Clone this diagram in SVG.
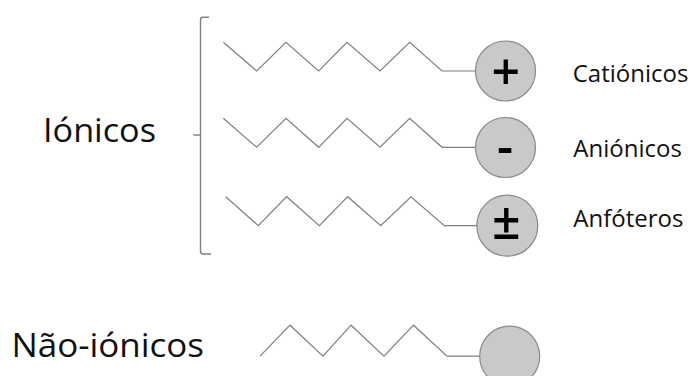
<svg xmlns="http://www.w3.org/2000/svg" width="692" height="376" viewBox="0 0 692 376">
  <style>
    .chain { fill: none; stroke: #7f7f7f; stroke-width: 1.2; stroke-linejoin: miter; }
    .head { fill: #c9c9c9; stroke: #8a8a8a; stroke-width: 1.2; }
    .brace { fill: none; stroke: #7f7f7f; stroke-width: 1.4; }
    .big { font-family: "Open Sans", "Liberation Sans", sans-serif; font-size: 32px; fill: #111; }
    .label { font-family: "Open Sans", "Liberation Sans", sans-serif; font-size: 24px; fill: #111; }
    .sign { font-family: "Open Sans", "DejaVu Sans", sans-serif; font-weight: 600; font-size: 50px; fill: #000; text-anchor: middle; }
  </style>
  <rect width="692" height="376" fill="#ffffff"/>

  <!-- group titles -->
  <text class="big" x="43" y="142.3" textLength="113" lengthAdjust="spacingAndGlyphs">Iónicos</text>
  <text class="big" x="11.5" y="357.3" textLength="192.5" lengthAdjust="spacingAndGlyphs">Não-iónicos</text>

  <!-- bracket grouping the ionic types -->
  <g id="bracket">
    <path class="brace" d="M209,17.3 H203 Q200.5,17.3 200.5,20 V251 Q200.5,254 203,254 H211"/>
    <path class="brace" d="M193.3,135 H200.5"/>
  </g>

  <g id="connectors">
    <path class="chain" d="M223.3,42.3 L256.7,71 L286,42.3 L318.7,71 L347,42.3 L380,71 L409.7,42.3 L442,71 L475,71"/>
    <path class="chain" d="M223.3,118.3 L256.7,147.3 L286,118.3 L318.7,147.3 L347,118.3 L380,147.3 L409.7,118.3 L442,147.3 L475,147.3"/>
    <path class="chain" d="M225.7,196.7 L258.3,225.7 L286.7,196.7 L319.3,225.7 L347.7,196.7 L380.7,225.7 L411,196.7 L444.3,225.7 L477,225.7"/>
    <path class="chain" d="M260,356.2 L290,325.2 L323,356.2 L351,325.2 L384,356.2 L413.5,325.2 L447,356.2 L480,356.2"/>
  </g>

  <g id="cationic">
    <circle class="head" cx="505.5" cy="71" r="30"/>
    <text class="sign" x="505.8" y="89.5">+</text>
    <text class="label" x="572.7" y="81.7">Catiónicos</text>
  </g>

  <g id="anionic">
    <circle class="head" cx="505.5" cy="147.5" r="30"/>
    <text class="sign" x="505" y="164">-</text>
    <text class="label" x="573.3" y="156.7">Aniónicos</text>
  </g>

  <g id="amphoteric">
    <circle class="head" cx="507.3" cy="225.7" r="30.5"/>
    <text class="sign" x="506.3" y="239">±</text>
    <text class="label" x="573.3" y="227.3">Anfóteros</text>
  </g>

  <g id="nonionic">
    <circle class="head" cx="509.7" cy="356.2" r="30"/>
  </g>
</svg>
